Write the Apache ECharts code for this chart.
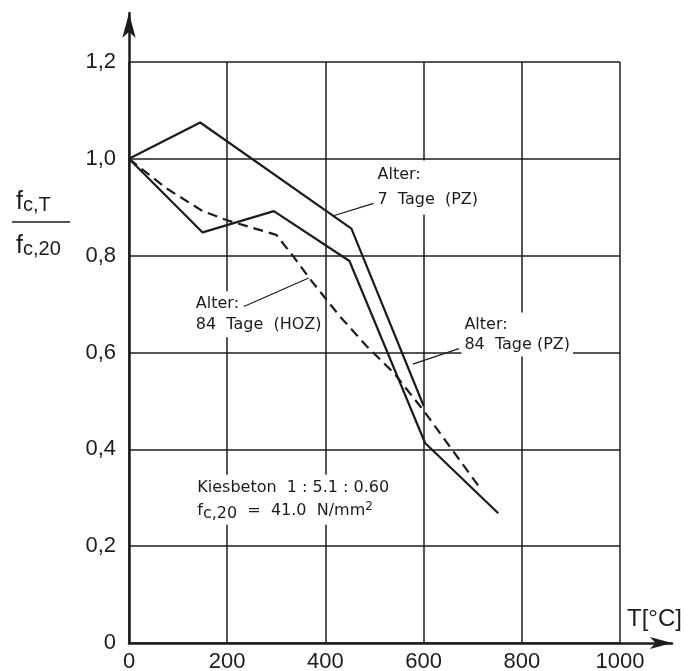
<!DOCTYPE html>
<html>
<head>
<meta charset="utf-8">
<script src="https://cdn.jsdelivr.net/npm/echarts@6/dist/echarts.min.js"></script>
<style>
html,body{margin:0;padding:0;background:#fff;}
#chart{width:691px;height:671px;}
</style>
</head>
<body>
<div id="chart"></div>
<script>
// ---- data ----
const tempTickLabels = ['0', '200', '400', '600', '800', '1000'];
const ratioTickLabels = ['0', '0,2', '0,4', '0,6', '0,8', '1,0', '1,2'];

// Alter: 7 Tage (PZ)
const pz7Temp  = [0, 145, 453, 600];
const pz7Ratio = [1.0, 1.075, 0.856, 0.49];

// Alter: 84 Tage (PZ)
const pz84Temp  = [0, 150, 295, 449, 603, 752];
const pz84Ratio = [1.0, 0.848, 0.892, 0.789, 0.413, 0.268];

// Alter: 84 Tage (HOZ) - dashed
const hoz84Temp  = [0, 75, 150, 200, 300, 335, 370, 430, 485, 540, 600, 715];
const hoz84Ratio = [1.0, 0.94, 0.892, 0.873, 0.843, 0.798, 0.75, 0.674, 0.612, 0.557, 0.48, 0.32];

// annotation texts and anchor points (data coordinates)
const noteTexts  = ['Alter:\n7  Tage  (PZ)', 'Alter:\n84  Tage  (HOZ)', 'Alter:\n84  Tage (PZ)',
                    'Kiesbeton  1 : 5.1 : 0.60\nf{sub|c,20}  =  41.0  N/mm{sup|2}'];
const noteTemp   = [500, 130, 677, 133];
const noteRatio  = [0.941, 0.679, 0.637, 0.296];
const noteLineHeights = [25, 21, 20, 23];

// leader lines (data coordinates)
const leaderFromTemp  = [415, 234, 578];
const leaderFromRatio = [0.882, 0.695, 0.576];
const leaderToTemp    = [498, 366, 672];
const leaderToRatio   = [0.908, 0.754, 0.608];

const zip = (a, b) => a.map((v, i) => [v, b[i]]);
const INK = '#1c1c1c';
const FONT = 'Liberation Sans';
const NOTE_FONT = 'DejaVu Sans';

const chart = echarts.init(document.getElementById('chart'), null, {renderer: 'canvas'});

const option = {
  backgroundColor: '#ffffff',
  animation: false,
  textStyle: {fontFamily: FONT, color: INK},
  grid: [
    {left: 129, right: 71, top: 62, bottom: 28, show: false, containLabel: false, outerBoundsMode: 'none'},
    {left: 129, right: 19, top: 13, bottom: 28, show: false, containLabel: false, outerBoundsMode: 'none'}
  ],
  xAxis: [
    {
      type: 'value', gridIndex: 0, min: 0, max: 1000, interval: 200,
      axisLine: {show: false}, axisTick: {show: false},
      splitLine: {show: true, lineStyle: {color: INK, width: 1.5}},
      axisLabel: {
        show: true, margin: 8, fontSize: 22, color: INK, fontFamily: FONT,
        formatter: v => tempTickLabels[Math.round(v / 200)]
      },
      name: 'T[°C]', nameLocation: 'end', nameGap: 7,
      nameTextStyle: {fontSize: 24, color: INK, fontFamily: FONT, align: 'left', verticalAlign: 'bottom', padding: [0, 0, 12, 0]}
    },
    {
      type: 'value', gridIndex: 1, min: 0, max: 1,
      axisLine: {show: true, symbol: ['none', 'arrow'], symbolSize: [9, 22], lineStyle: {color: INK, width: 2.5}},
      axisTick: {show: false}, axisLabel: {show: false}, splitLine: {show: false}
    }
  ],
  yAxis: [
    {
      type: 'value', gridIndex: 0, min: 0, max: 1.2, interval: 0.2,
      axisLine: {show: false}, axisTick: {show: false},
      splitLine: {show: true, lineStyle: {color: INK, width: 1.5}},
      axisLabel: {
        show: true, margin: 13, fontSize: 22, color: INK, fontFamily: FONT,
        formatter: v => ratioTickLabels[Math.round(v / 0.2)]
      }
    },
    {
      type: 'value', gridIndex: 1, min: 0, max: 1,
      axisLine: {show: true, symbol: ['none', 'arrow'], symbolSize: [10, 25], lineStyle: {color: INK, width: 2.5}},
      axisTick: {show: false}, axisLabel: {show: false}, splitLine: {show: false}
    }
  ],
  series: [
    {
      type: 'scatter', xAxisIndex: 0, yAxisIndex: 0, data: [], z: 1, silent: true,
      markPoint: {
        symbol: 'circle', symbolSize: 0, silent: true, z: 2,
        label: {
          show: true, position: [0, 0], align: 'left', verticalAlign: 'middle',
          fontFamily: NOTE_FONT, fontSize: 16, color: INK, backgroundColor: '#ffffff',
          padding: [2, 3],
          rich: {
            sub: {fontSize: 16, fontFamily: NOTE_FONT, color: INK, padding: [6, 0, 0, 0], lineHeight: 23},
            sup: {fontSize: 12, fontFamily: NOTE_FONT, color: INK, padding: [0, 0, 9, 0], lineHeight: 23}
          }
        },
        data: noteTexts.map((t, i) => ({
          coord: [noteTemp[i], noteRatio[i]],
          label: {formatter: t, lineHeight: noteLineHeights[i]}
        }))
      }
    },
    {
      type: 'scatter', xAxisIndex: 0, yAxisIndex: 0, data: [], z: 2, silent: true,
      markLine: {
        symbol: ['none', 'none'], silent: true, label: {show: false}, z: 4,
        lineStyle: {color: INK, width: 1.2, type: 'solid'},
        data: leaderFromTemp.map((t, i) => [
          {coord: [t, leaderFromRatio[i]]},
          {coord: [leaderToTemp[i], leaderToRatio[i]]}
        ])
      }
    },
    {
      name: '7 Tage (PZ)', type: 'line', xAxisIndex: 0, yAxisIndex: 0, z: 3,
      data: zip(pz7Temp, pz7Ratio), symbol: 'none', smooth: false,
      lineStyle: {color: INK, width: 2.2}
    },
    {
      name: '84 Tage (PZ)', type: 'line', xAxisIndex: 0, yAxisIndex: 0, z: 3,
      data: zip(pz84Temp, pz84Ratio), symbol: 'none', smooth: false,
      lineStyle: {color: INK, width: 2.2}
    },
    {
      name: '84 Tage (HOZ)', type: 'line', xAxisIndex: 0, yAxisIndex: 0, z: 3,
      data: zip(hoz84Temp, hoz84Ratio), symbol: 'none', smooth: false,
      lineStyle: {color: INK, width: 2.2, type: [10, 6]}
    }
  ],
  graphic: [
    {
      type: 'text', left: 16, top: 190, z: 10,
      style: {
        text: '{f|f}{s|c,T}', fill: INK,
        rich: {
          f: {fontSize: 25, fontFamily: FONT, fill: INK, verticalAlign: 'bottom', lineHeight: 26},
          s: {fontSize: 20, fontFamily: FONT, fill: INK, verticalAlign: 'bottom', lineHeight: 26}
        }
      }
    },
    {
      type: 'line', z: 10,
      shape: {x1: 12, y1: 222, x2: 70, y2: 222},
      style: {stroke: INK, lineWidth: 1.6}
    },
    {
      type: 'text', left: 16, top: 234, z: 10,
      style: {
        text: '{f|f}{s|c,20}', fill: INK,
        rich: {
          f: {fontSize: 25, fontFamily: FONT, fill: INK, verticalAlign: 'bottom', lineHeight: 26},
          s: {fontSize: 20, fontFamily: FONT, fill: INK, verticalAlign: 'bottom', lineHeight: 26}
        }
      }
    }
  ]
};

chart.setOption(option);
</script>
</body>
</html>
